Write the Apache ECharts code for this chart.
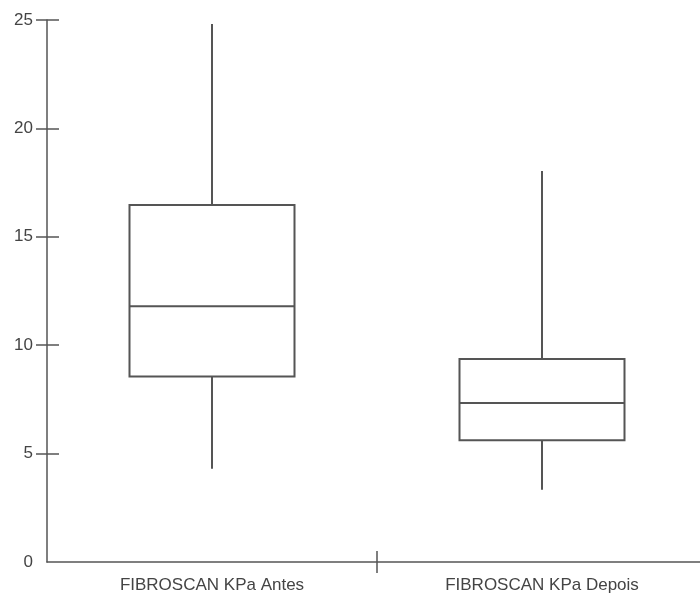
<!DOCTYPE html>
<html>
<head>
<meta charset="utf-8">
<script src="https://cdn.jsdelivr.net/npm/echarts@6/dist/echarts.min.js"></script>
<style>html,body{margin:0;padding:0;background:#fff;}#c{width:700px;height:595px;}</style>
</head>
<body>
<div id="c"></div>
<script>
const categories = ['FIBROSCAN KPa Antes', 'FIBROSCAN KPa Depois'];
const lowerWhisker = [4.30, 3.33];
const q1Values = [8.56, 5.62];
const medianValues = [11.80, 7.33];
const q3Values = [16.47, 9.36];
const upperWhisker = [24.82, 18.04];
const yTicks = [0, 5, 10, 15, 20, 25];

const chart = echarts.init(document.getElementById('c'), null, {renderer: 'canvas'});
const data = categories.map((c, i) => [i + 0.5, lowerWhisker[i], q1Values[i], medianValues[i], q3Values[i], upperWhisker[i]]);
const stroke = '#555';
const font = 'Liberation Sans, Arial, sans-serif';
const tickStyle = {color: '#555', width: 1.5};
// the plot is clipped on the right: the last category boundary lies just past the window edge
const xMax = categories.length * 653 / 660;

chart.setOption({
  animation: false,
  grid: {left: 47, top: 20, bottom: 33, right: 0, containLabel: false},
  xAxis: [{
    type: 'value', min: 0, max: xMax, splitLine: {show: false},
    axisLine: {show: true, lineStyle: tickStyle},
    axisTick: {show: true, customValues: [1], length: 11, lineStyle: tickStyle},
    axisLabel: {customValues: categories.map((c, i) => i + 0.5), formatter: v => categories[Math.floor(v)], color: '#444', fontFamily: font, fontSize: 17, margin: 15}
  }, {
    type: 'value', position: 'bottom', min: 0, max: xMax, splitLine: {show: false},
    axisLine: {show: false},
    axisTick: {show: true, inside: true, customValues: [1], length: 11, lineStyle: tickStyle},
    axisLabel: {show: false}
  }],
  yAxis: [{
    type: 'value', min: yTicks[0], max: yTicks[yTicks.length - 1], interval: 5, splitLine: {show: false},
    axisLine: {show: true, lineStyle: tickStyle},
    axisTick: {show: true, customValues: yTicks.slice(1), length: 11, lineStyle: tickStyle},
    axisLabel: {color: '#444', fontFamily: font, fontSize: 17, margin: 14}
  }, {
    type: 'value', position: 'left', min: yTicks[0], max: yTicks[yTicks.length - 1], interval: 5, splitLine: {show: false},
    axisLine: {show: false},
    axisTick: {show: true, inside: true, customValues: yTicks.slice(1), length: 12, lineStyle: tickStyle},
    axisLabel: {show: false}
  }],
  series: [{
    type: 'custom',
    data: data,
    encode: {x: 0, y: [1, 2, 3, 4, 5]},
    renderItem: function (params, api) {
      const x = api.value(0);
      const half = api.size([1, 0])[0] * 0.25;
      const pLow = api.coord([x, api.value(1)]);
      const pQ1 = api.coord([x, api.value(2)]);
      const pMed = api.coord([x, api.value(3)]);
      const pQ3 = api.coord([x, api.value(4)]);
      const pHigh = api.coord([x, api.value(5)]);
      const st = {stroke: stroke, lineWidth: 2, fill: null};
      return {
        type: 'group',
        children: [
          {type: 'line', shape: {x1: pHigh[0], y1: pHigh[1], x2: pQ3[0], y2: pQ3[1]}, style: st},
          {type: 'line', shape: {x1: pQ1[0], y1: pQ1[1], x2: pLow[0], y2: pLow[1]}, style: st},
          {type: 'rect', shape: {x: pQ3[0] - half, y: pQ3[1], width: half * 2, height: pQ1[1] - pQ3[1]}, style: {stroke: stroke, lineWidth: 2, fill: '#fff'}},
          {type: 'line', shape: {x1: pMed[0] - half, y1: pMed[1], x2: pMed[0] + half, y2: pMed[1]}, style: st}
        ]
      };
    }
  }]
});
</script>
</body>
</html>
